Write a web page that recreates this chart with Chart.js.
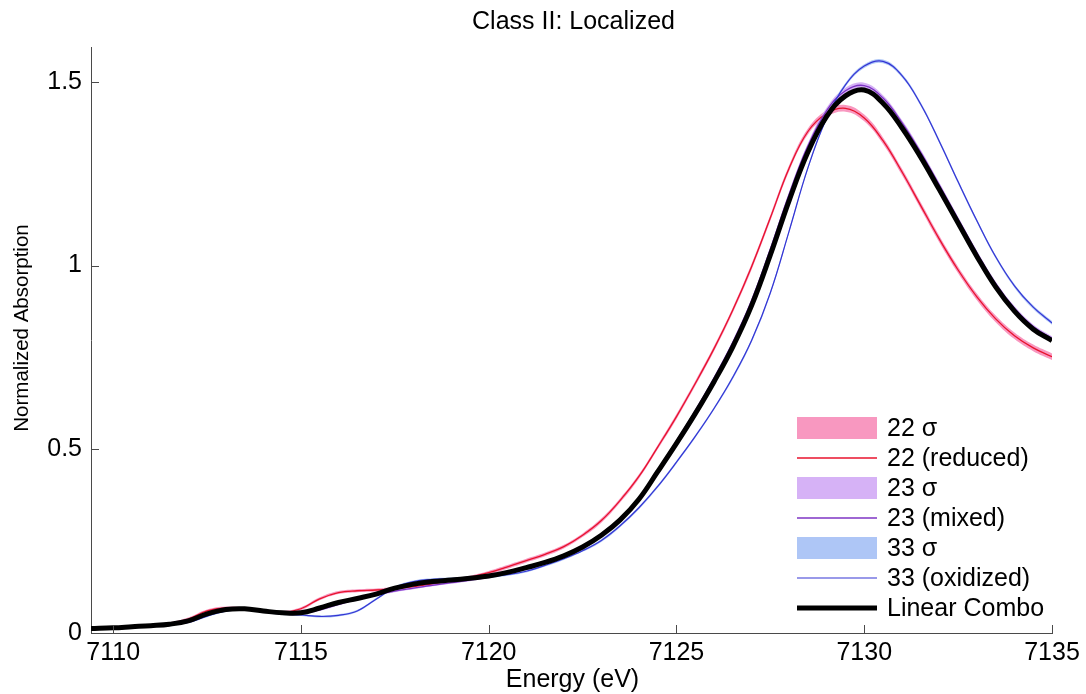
<!DOCTYPE html>
<html>
<head>
<meta charset="utf-8">
<title>Class II: Localized</title>
<script src="https://cdn.jsdelivr.net/npm/chart.js@4/dist/chart.umd.min.js"></script>
<style>
  html, body { margin: 0; padding: 0; background: #ffffff; }
  #wrap { width: 1086px; height: 694px; position: relative; }
</style>
</head>
<body>
<div id="wrap"><canvas id="xanes" width="1086" height="694"></canvas></div>
<script>
// Incident energy grid (eV)
const energy = [
  7109.41, 7110, 7110.5, 7111, 7111.5, 7112, 7112.5, 7113, 7113.5, 7114,
  7114.5, 7115, 7115.5, 7116, 7116.5, 7117, 7117.5, 7118, 7118.5, 7119,
  7119.5, 7120, 7120.5, 7121, 7121.5, 7122, 7122.5, 7123, 7123.5, 7124,
  7124.5, 7125, 7125.5, 7126, 7126.5, 7127, 7127.5, 7128, 7128.5, 7129,
  7129.5, 7130, 7130.5, 7131, 7131.5, 7132, 7132.5, 7133, 7133.5, 7134,
  7134.5, 7135
];

// 22 (reduced) normalized absorption
const abs22 = [
  0.012, 0.014, 0.017, 0.021, 0.026, 0.038, 0.060, 0.068, 0.066, 0.060,
  0.056, 0.066, 0.093, 0.110, 0.115, 0.117, 0.121, 0.126, 0.134, 0.142,
  0.152, 0.164, 0.180, 0.197, 0.214, 0.235, 0.266, 0.306, 0.361, 0.426,
  0.506, 0.589, 0.679, 0.774, 0.879, 0.997, 1.130, 1.265, 1.365, 1.414,
  1.428, 1.402, 1.340, 1.256, 1.164, 1.072, 0.988, 0.915, 0.855, 0.809,
  0.776, 0.752
];

// 23 (mixed) normalized absorption
const abs23 = [
  0.012, 0.013, 0.016, 0.019, 0.023, 0.030, 0.048, 0.061, 0.064, 0.059,
  0.054, 0.054, 0.063, 0.078, 0.092, 0.104, 0.114, 0.122, 0.130, 0.137,
  0.144, 0.152, 0.162, 0.175, 0.190, 0.208, 0.233, 0.266, 0.308, 0.365,
  0.442, 0.522, 0.605, 0.694, 0.791, 0.905, 1.045, 1.194, 1.326, 1.422,
  1.476, 1.490, 1.456, 1.390, 1.309, 1.219, 1.127, 1.035, 0.951, 0.884,
  0.834, 0.802
];

// 33 (oxidized) normalized absorption
const abs33 = [
  0.011, 0.013, 0.016, 0.019, 0.023, 0.029, 0.046, 0.060, 0.064, 0.058,
  0.052, 0.049, 0.045, 0.048, 0.060, 0.092, 0.124, 0.140, 0.146, 0.148,
  0.151, 0.153, 0.159, 0.168, 0.184, 0.202, 0.224, 0.252, 0.292, 0.341,
  0.399, 0.465, 0.535, 0.611, 0.696, 0.796, 0.926, 1.094, 1.266, 1.402,
  1.492, 1.543, 1.556, 1.518, 1.440, 1.338, 1.228, 1.122, 1.024, 0.945,
  0.887, 0.844
];

// Linear combination of the reduced and oxidized spectra
const combo = [
  0.012, 0.014, 0.017, 0.020, 0.024, 0.033, 0.052, 0.064, 0.066, 0.060,
  0.055, 0.055, 0.068, 0.083, 0.094, 0.106, 0.122, 0.133, 0.140, 0.144,
  0.149, 0.155, 0.165, 0.178, 0.192, 0.210, 0.234, 0.266, 0.308, 0.364,
  0.439, 0.516, 0.597, 0.684, 0.779, 0.891, 1.029, 1.177, 1.309, 1.406,
  1.462, 1.478, 1.442, 1.376, 1.296, 1.207, 1.116, 1.025, 0.942, 0.876,
  0.827, 0.796
];

// One-sigma spreads of each spectrum
const sigma22 = [
  0.003, 0.003, 0.003, 0.003, 0.003, 0.004, 0.004, 0.004, 0.004, 0.004,
  0.004, 0.004, 0.004, 0.004, 0.004, 0.004, 0.004, 0.004, 0.004, 0.004,
  0.004, 0.005, 0.005, 0.005, 0.005, 0.005, 0.005, 0.006, 0.006, 0.006,
  0.006, 0.007, 0.007, 0.007, 0.007, 0.008, 0.008, 0.008, 0.008, 0.009,
  0.009, 0.009, 0.009, 0.009, 0.009, 0.009, 0.009, 0.009, 0.009, 0.009,
  0.009, 0.009
];
const sigma23 = [
  0.002, 0.002, 0.002, 0.002, 0.002, 0.003, 0.003, 0.003, 0.003, 0.003,
  0.003, 0.003, 0.003, 0.003, 0.003, 0.003, 0.003, 0.003, 0.003, 0.003,
  0.003, 0.003, 0.003, 0.004, 0.004, 0.004, 0.004, 0.004, 0.004, 0.005,
  0.005, 0.005, 0.005, 0.005, 0.006, 0.006, 0.006, 0.007, 0.007, 0.008,
  0.008, 0.008, 0.008, 0.007, 0.007, 0.007, 0.006, 0.006, 0.006, 0.006,
  0.006, 0.006
];
const sigma33 = [
  0.002, 0.002, 0.002, 0.002, 0.002, 0.002, 0.003, 0.003, 0.003, 0.003,
  0.003, 0.003, 0.003, 0.003, 0.003, 0.003, 0.003, 0.003, 0.003, 0.003,
  0.003, 0.003, 0.003, 0.003, 0.003, 0.003, 0.003, 0.004, 0.004, 0.004,
  0.004, 0.004, 0.004, 0.004, 0.005, 0.005, 0.005, 0.005, 0.005, 0.005,
  0.005, 0.005, 0.005, 0.005, 0.005, 0.005, 0.005, 0.005, 0.005, 0.005,
  0.005, 0.005
];

// Axis ticks
const xTicks = [7110, 7115, 7120, 7125, 7130, 7135];
const yTicks = [0, 0.5, 1, 1.5];

// Text
const chartTitle = 'Class II: Localized';
const xTitle = 'Energy (eV)';
const yTitle = 'Normalized Absorption';
const legendLabels = ['22 \u03c3', '22 (reduced)', '23 \u03c3', '23 (mixed)', '33 \u03c3', '33 (oxidized)', 'Linear Combo'];

// Styling
const FONT = "'Liberation Sans', Arial, Helvetica, sans-serif";
const AXIS_COLOR = '#4a4a4a';
const C = {
  band22: '#f898c0', line22: '#e8122c',
  band23: '#d6b2f6', line23: '#7e34c4',
  band33: '#aec6f6', line33: '#3434d4',
  combo: '#000000'
};

const pts = (vals) => energy.map((e, i) => ({ x: e, y: vals[i] }));
const ptsShift = (vals, sig, sign) => energy.map((e, i) => ({ x: e, y: vals[i] + sign * sig[i] }));

const lineBase = { pointRadius: 0, pointHoverRadius: 0, tension: 0.4, fill: false };

function bandPair(vals, sig, color, label, order) {
  return [
    Object.assign({}, lineBase, { label: label + ' upper', data: ptsShift(vals, sig, 1), borderWidth: 0, borderColor: 'rgba(0,0,0,0)', order: order, legendKey: null }),
    Object.assign({}, lineBase, { label: label, data: ptsShift(vals, sig, -1), borderWidth: 0, borderColor: 'rgba(0,0,0,0)', backgroundColor: color, fill: '-1', order: order, legendKey: label })
  ];
}

const datasets = [
  ...bandPair(abs22, sigma22, C.band22, legendLabels[0], 12),
  ...bandPair(abs23, sigma23, C.band23, legendLabels[2], 11),
  ...bandPair(abs33, sigma33, C.band33, legendLabels[4], 10),
  Object.assign({}, lineBase, { label: legendLabels[1], data: pts(abs22), borderColor: C.line22, borderWidth: 1.3, order: 3, legendKey: legendLabels[1] }),
  Object.assign({}, lineBase, { label: legendLabels[3], data: pts(abs23), borderColor: C.line23, borderWidth: 1.3, order: 2, legendKey: legendLabels[3] }),
  Object.assign({}, lineBase, { label: legendLabels[5], data: pts(abs33), borderColor: C.line33, borderWidth: 1.2, order: 1, legendKey: legendLabels[5] }),
  Object.assign({}, lineBase, { label: legendLabels[6], data: pts(combo), borderColor: C.combo, borderWidth: 5, order: 0, legendKey: legendLabels[6] })
];

// Inward tick marks, titles and the in-plot legend
const decorations = {
  id: 'decorations',
  afterDraw(chart) {
    const { ctx, chartArea: a, scales: { x, y } } = chart;
    ctx.save();

    ctx.strokeStyle = AXIS_COLOR;
    ctx.lineWidth = 1;
    x.ticks.forEach(t => {
      const px = Math.round(x.getPixelForValue(t.value)) + 0.5;
      ctx.beginPath(); ctx.moveTo(px, a.bottom); ctx.lineTo(px, a.bottom - 8); ctx.stroke();
    });
    y.ticks.forEach(t => {
      const py = Math.round(y.getPixelForValue(t.value)) + 0.5;
      ctx.beginPath(); ctx.moveTo(a.left, py); ctx.lineTo(a.left + 8, py); ctx.stroke();
    });

    ctx.fillStyle = '#000';
    ctx.textAlign = 'center';
    ctx.textBaseline = 'middle';
    ctx.font = '25px ' + FONT;
    ctx.fillText(chartTitle, (a.left + a.right) / 2 + 2, 22);

    ctx.font = '25px ' + FONT;
    ctx.fillText(xTitle, (a.left + a.right) / 2 + 1, 680);

    ctx.save();
    ctx.translate(22, 328);
    ctx.rotate(-Math.PI / 2);
    ctx.font = '20.5px ' + FONT;
    ctx.fillText(yTitle, 0, 0);
    ctx.restore();

    // legend
    const x0 = a.right - 255, x1 = a.right - 175, tx = a.right - 165;
    const top = a.bottom - 205, step = 30;
    ctx.font = '25px ' + FONT;
    ctx.textAlign = 'left';
    legendLabels.forEach((lab, i) => {
      const ds = chart.data.datasets.find(d => d.legendKey === lab);
      const cy = top + i * step;
      if (ds.fill) {
        ctx.fillStyle = ds.backgroundColor;
        ctx.fillRect(x0, cy - 11, x1 - x0, 22);
      } else {
        ctx.strokeStyle = ds.borderColor;
        ctx.lineWidth = ds.borderWidth;
        ctx.beginPath(); ctx.moveTo(x0, cy); ctx.lineTo(x1, cy); ctx.stroke();
      }
      ctx.fillStyle = '#000';
      ctx.fillText(lab, tx, cy + 1);
    });

    ctx.restore();
  }
};

new Chart(document.getElementById('xanes'), {
  type: 'line',
  data: { datasets },
  options: {
    responsive: false,
    animation: false,
    events: [],
    layout: { padding: { top: 47, right: 34, bottom: 0, left: 0 } },
    plugins: {
      legend: { display: false },
      title: { display: false },
      tooltip: { enabled: false },
      filler: { propagate: false }
    },
    scales: {
      x: {
        type: 'linear',
        min: 7109.41,
        max: 7135,
        afterBuildTicks: (s) => { s.ticks = xTicks.map(v => ({ value: v })); },
        afterFit: (s) => { s.height = 61; },
        grid: { display: false, drawTicks: false },
        border: { display: true, color: AXIS_COLOR, width: 1 },
        ticks: {
          color: '#000',
          padding: 5,
          maxRotation: 0,
          autoSkip: false,
          font: { family: FONT, size: 25 },
          callback: (v) => String(v)
        }
      },
      y: {
        type: 'linear',
        min: 0,
        max: 1.595,
        afterBuildTicks: (s) => { s.ticks = yTicks.map(v => ({ value: v })); },
        afterFit: (s) => { s.width = 91; },
        grid: { display: false, drawTicks: false },
        border: { display: true, color: AXIS_COLOR, width: 1 },
        ticks: {
          color: '#000',
          padding: 9,
          autoSkip: false,
          font: { family: FONT, size: 25 },
          callback: (v) => String(v)
        }
      }
    }
  },
  plugins: [decorations]
});
</script>
</body>
</html>
